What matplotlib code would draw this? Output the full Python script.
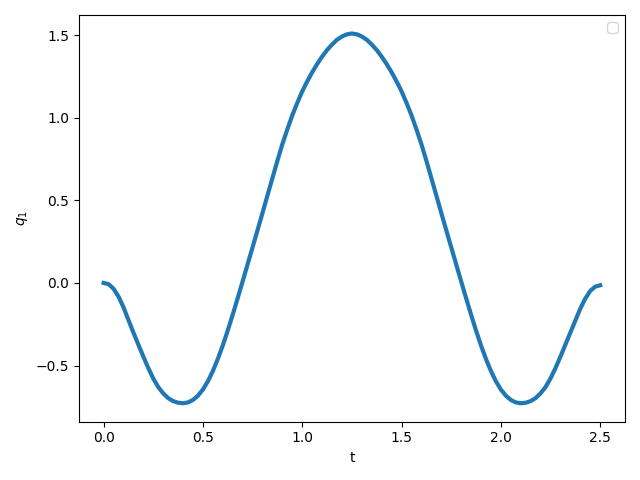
import matplotlib
matplotlib.use("Agg")
import matplotlib.pyplot as plt

# values (t step 0.025)
t = [0.000, 0.025, 0.050, 0.075, 0.100, 0.125, 0.150, 0.175, 0.200, 0.225,
     0.250, 0.275, 0.300, 0.325, 0.350, 0.375, 0.400, 0.425, 0.450, 0.475,
     0.500, 0.525, 0.550, 0.575, 0.600, 0.625, 0.650, 0.675, 0.700, 0.725,
     0.750, 0.775, 0.800, 0.825, 0.850, 0.875, 0.900, 0.925, 0.950, 0.975,
     1.000, 1.025, 1.050, 1.075, 1.100, 1.125, 1.150, 1.175, 1.200, 1.225,
     1.250, 1.275, 1.300, 1.325, 1.350, 1.375, 1.400, 1.425, 1.450, 1.475,
     1.500, 1.525, 1.550, 1.575, 1.600, 1.625, 1.650, 1.675, 1.700, 1.725,
     1.750, 1.775, 1.800, 1.825, 1.850, 1.875, 1.900, 1.925, 1.950, 1.975,
     2.000, 2.025, 2.050, 2.075, 2.100, 2.125, 2.150, 2.175, 2.200, 2.225,
     2.250, 2.275, 2.300, 2.325, 2.350, 2.375, 2.400, 2.425, 2.450, 2.475,
     2.500]
q1 = [0.000, -0.007, -0.035, -0.082, -0.147, -0.224, -0.300, -0.373, -0.446, -0.515,
      -0.578, -0.630, -0.668, -0.697, -0.715, -0.725, -0.728, -0.723, -0.708, -0.682,
      -0.645, -0.595, -0.533, -0.460, -0.378, -0.288, -0.192, -0.092, 0.010, 0.113,
      0.216, 0.320, 0.424, 0.530, 0.635, 0.740, 0.840, 0.930, 1.015, 1.090,
      1.160, 1.220, 1.275, 1.325, 1.370, 1.410, 1.443, 1.472, 1.492, 1.505,
      1.510, 1.505, 1.492, 1.472, 1.443, 1.410, 1.370, 1.325, 1.275, 1.220,
      1.160, 1.090, 1.015, 0.930, 0.840, 0.740, 0.635, 0.530, 0.424, 0.320,
      0.216, 0.113, 0.010, -0.092, -0.192, -0.288, -0.378, -0.460, -0.533, -0.595,
      -0.645, -0.682, -0.708, -0.723, -0.728, -0.725, -0.715, -0.697, -0.668, -0.630,
      -0.578, -0.515, -0.446, -0.373, -0.300, -0.228, -0.155, -0.095, -0.048, -0.022,
      -0.014]

fig, ax = plt.subplots(figsize=(6.4, 4.8), dpi=100)
ax.plot(t, q1, color="#1f77b4", linewidth=3)
ax.set_xlabel("t")
ax.set_ylabel("$q_1$")
ax.legend(handles=[], loc="upper right")
fig.tight_layout()
fig.savefig("out.png", dpi=100)
